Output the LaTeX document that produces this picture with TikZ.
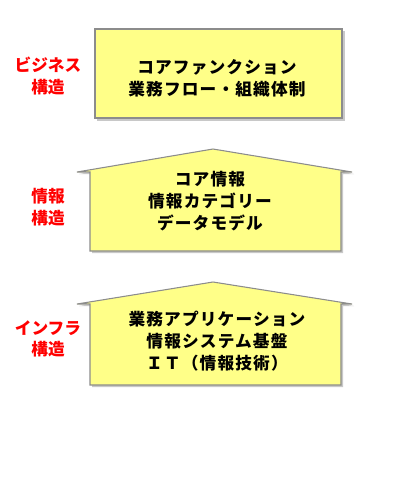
\documentclass[tikz,border=0pt]{standalone}
\usepackage{fontspec}
\newfontfamily\jp{Noto Sans CJK JP}
\newfontfamily\jpwide{Noto Sans CJK JP}[LetterSpace=7]
\tikzset{
  boxshape/.style={fill=boxfill, draw=boxline, line width=0.8pt},
  shadowshape/.style={fill=shadowgray, draw=none},
  boxtext/.style={font=\jpwide\bfseries\fontsize{12.5}{16.5}\selectfont, align=center, text=black, inner sep=0pt},
  sidelabel/.style={font=\jp\bfseries\fontsize{12.5}{16}\selectfont, align=center, text=red, inner sep=0pt}
}
\definecolor{boxfill}{HTML}{FFFF88}
\definecolor{boxline}{HTML}{8C8C8C}
\definecolor{shadowgray}{HTML}{C8C8C8}
\begin{document}
\begin{tikzpicture}[x=0.75pt,y=-0.75pt]
\useasboundingbox (0,0) rectangle (400,487);
% box 1
\fill[shadowgray] (97,31) rectangle (345,121);
\draw[boxshape] (95,29) rectangle (342,118);
\node[boxtext] (t1) at (217,78) {コアファンクション\\業務フロー・組織体制};
\node[sidelabel] (l1) at (48,76) {ビジネス\\構造};
% house 2
\fill[shadowgray] (92,253) -- (92,174) -- (79,174) -- (215,151) -- (354,174) -- (343,174) -- (343,253) -- cycle;
\draw[boxshape] (90,251) -- (90,172) -- (77,172) -- (213,149) -- (352,172) -- (341,172) -- (341,251) -- cycle;
\node[boxtext] (t2) at (210,201) {コア情報\\情報カテゴリー\\データモデル};
\node[sidelabel] (l2) at (48,207) {情報\\構造};
% house 3
\fill[shadowgray] (92,387) -- (92,306) -- (79,306) -- (215,284) -- (354,306) -- (343,306) -- (343,387) -- cycle;
\draw[boxshape] (90,385) -- (90,304) -- (77,304) -- (213,282) -- (352,304) -- (341,304) -- (341,385) -- cycle;
\node[boxtext] (t3) at (217,341) {業務アプリケーション\\情報システム基盤\\ＩＴ（情報技術）};
\node[sidelabel] (l3) at (48,339) {インフラ\\構造};
\end{tikzpicture}
\end{document}
